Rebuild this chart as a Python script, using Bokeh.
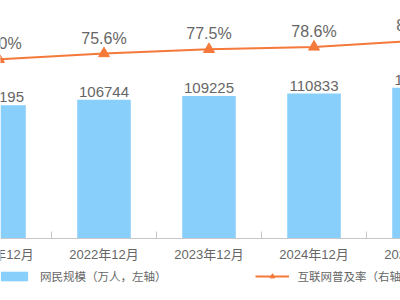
import math
from bokeh.plotting import figure
from bokeh.models import (Range1d, Legend, LegendItem, ColumnDataSource, Span)
from bokeh.core.properties import value
from bokeh.embed import file_html
from bokeh.resources import INLINE

categories = ["2021年12月", "2022年12月", "2023年12月", "2024年12月", "2025年12月"]
users = [103195, 106744, 109225, 110833, 114600]
rate = [73.0, 75.6, 77.5, 78.6, 81.5]
user_labels = [str(v) for v in users]
rate_labels = [f"{v:.1f}%" for v in rate]
axis_min = 15970          # left-axis value where the category axis sits
boundaries = [i + 0.5 for i in range(len(categories) - 1)]

xs = list(range(len(categories)))
src = ColumnDataSource(dict(x=xs, users=users, rate=rate, ul=user_labels, rl=rate_labels,
                            cat=categories, base=[axis_min] * len(xs)))

p = figure(width=400, height=300, output_backend="svg", toolbar_location=None,
           x_range=Range1d(0.0143, 3.8238), y_range=Range1d(-24597, 171700),
           x_axis_location=None, y_axis_location=None,
           min_border_left=0, min_border_right=0, min_border_top=0, min_border_bottom=0)
p.extra_y_ranges = {"pct": Range1d(-36.68, 99.7)}
p.outline_line_color = None
p.xgrid.visible = False
p.ygrid.visible = False

bars = p.vbar(x="x", top="users", bottom=axis_min, width=0.51, source=src,
              fill_color="#88cffc", line_color=None)
line = p.line(x="x", y="rate", source=src, y_range_name="pct",
              line_color="#f5793a", line_width=2)
tri = p.scatter(x="x", y="rate", source=src, y_range_name="pct", marker="triangle",
                size=11, fill_color="#f5793a", line_color="#f5793a")

p.text(x="x", y="users", text="ul", source=src, text_align="center",
       text_baseline="bottom", y_offset=-3, text_font=value("Liberation Sans"),
       text_font_size="15px", text_color="#666666")
p.text(x="x", y="rate", text="rl", source=src, y_range_name="pct", text_align="center",
       text_baseline="bottom", y_offset=-7, text_font=value("Liberation Sans"),
       text_font_size="16px", text_color="#666666")

# category axis
p.add_layout(Span(location=axis_min, dimension="width", line_color="#c8c8c8", line_width=1))
p.ray(x=boundaries, y=[axis_min] * len(boundaries), length=7, length_units="screen",
      angle=math.pi / 2, line_color="#c8c8c8", line_width=1)
p.text(x="x", y="base", text="cat", source=src, text_align="center",
       text_baseline="middle", y_offset=16,
       text_font=value("Liberation Sans, Noto Sans CJK SC"),
       text_font_size="13px", text_color="#666666")

legend = Legend(items=[LegendItem(label="网民规模（万人，左轴）", renderers=[bars]),
                       LegendItem(label="互联网普及率（右轴）", renderers=[line, tri])],
                location=(-3, 16), orientation="horizontal",
                border_line_color=None, background_fill_alpha=0, padding=0, margin=0,
                glyph_width=34, glyph_height=12, label_height=12, label_standoff=9,
                spacing=88, label_text_font="Noto Sans CJK SC", label_text_font_size="11.5px",
                label_text_color="#666666")
p.add_layout(legend)

open("out.html", "w").write(file_html(p, INLINE))
